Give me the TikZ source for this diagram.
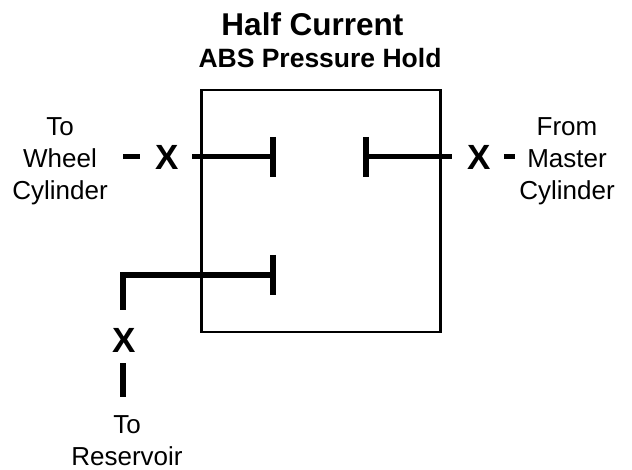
\documentclass[tikz,border=0pt]{standalone}
\usepackage{fontspec}
\setmainfont{Liberation Sans}
\begin{document}
\begin{tikzpicture}
    [x=1pt,y=-1pt,
     label/.style={font=\fontsize{26}{32}\selectfont,align=center,inner sep=0pt},
     cross/.style={font=\fontsize{35}{35}\selectfont\bfseries,inner sep=0pt},
     heading/.style={font=\fontsize{26.5}{26.5}\selectfont\bfseries,inner sep=0pt},
     pipe/.style={line width=5pt},
     stub/.style={line width=5.5pt}]

    \useasboundingbox (0,0) rectangle (632,470);

    \node[heading,font=\fontsize{31.5}{31.5}\selectfont\bfseries] (title) at (312.5,24) {Half Current};
    \node[heading] (subtitle) at (320,58) {ABS Pressure Hold};
    \node[draw,line width=2.5pt,minimum width=239pt,minimum height=242pt,inner sep=0pt] (valve) at (321,211) {};

    \node[label] (wheel) at (60,161) {To\\Wheel\\Cylinder};
    \node[label] (master) at (567,161) {From\\Master\\Cylinder};
    \node[label] (reservoir) at (127,441) {To\\Reservoir};

    \foreach \name/\x/\y in {XW/167/157, XM/479/157, XR/124/340}
      \node[cross] (\name) at (\x,\y) {X};

    % free ends of the lines
    \foreach \name/\x/\y in {a/123/157, b/140/157, c/192/157, d/273/157, e/366/157, f/452/157,
                             g/504/157, h/515/157, i/123/310, j/123/275, k/273/275, l/123/363, m/123/397}
      \coordinate (\name) at (\x,\y);

    \foreach \name/\x/\y in {d/273/157, e/366/157, k/273/275}
      { \coordinate (\name-top) at (\x,\y-20); \coordinate (\name-bot) at (\x,\y+20); }

    \foreach \from/\to in {c/d, e/f, a/b, g/h}
      \draw[pipe] (\from) -- (\to);

    \draw[stub] (l) -- (m);

    \foreach \name in {d, e, k}
      \draw[stub] (\name-top) -- (\name-bot);

    \draw[stub] (i) -- (j) -- (k);
\end{tikzpicture}
\end{document}
